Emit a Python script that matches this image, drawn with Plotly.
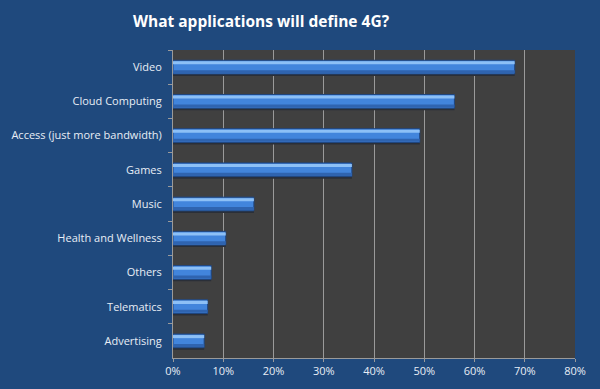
import plotly.graph_objects as go

categories = ["Video", "Cloud Computing", "Access (just more bandwidth)", "Games",
              "Music", "Health and Wellness", "Others", "Telematics", "Advertising"]
values = [68.0, 56.0, 49.1, 35.6, 16.1, 10.5, 7.6, 6.9, 6.2]
x_ticks = [0, 10, 20, 30, 40, 50, 60, 70, 80]
x_tick_labels = ["0%", "10%", "20%", "30%", "40%", "50%", "60%", "70%", "80%"]

fig = go.Figure()
# shadow
fig.add_trace(go.Bar(y=categories, x=values, orientation="h", width=0.42, offset=-0.16,
                     marker=dict(color="#2a2f38", line=dict(width=0)), hoverinfo="skip"))
# main bar
fig.add_trace(go.Bar(y=categories, x=values, orientation="h", width=0.40, offset=-0.20,
                     marker=dict(color="#4285dc", line=dict(color="#1f4680", width=1))))
# top highlight
fig.add_trace(go.Bar(y=categories, x=values, orientation="h", width=0.09, offset=-0.17,
                     marker=dict(color="#8dc0f6", line=dict(width=0)), hoverinfo="skip"))
# bottom darker band
fig.add_trace(go.Bar(y=categories, x=values, orientation="h", width=0.09, offset=0.09,
                     marker=dict(color="#2f64b0", line=dict(width=0)), hoverinfo="skip"))

fig.update_layout(
    width=600, height=389,
    barmode="overlay",
    showlegend=False,
    paper_bgcolor="#1f497d",
    plot_bgcolor="#404040",
    margin=dict(l=173, r=25, t=50, b=31),
    font=dict(family="Open Sans", color="#e8eef6", size=11),
    title=dict(text="<b>What applications will define 4G?</b>", x=0.435, xanchor="center",
               y=0.945, yanchor="middle", font=dict(size=15.5, color="white", family="Open Sans")),
    xaxis=dict(range=[0, 80], tickvals=x_ticks, ticktext=x_tick_labels,
               showgrid=True, gridcolor="#9a9a9a", gridwidth=1,
               showline=True, linecolor="#9a9a9a", zeroline=False,
               ticks="outside", ticklen=3, tickcolor="#9a9a9a", fixedrange=True),
    yaxis=dict(categoryorder="array", categoryarray=categories, autorange="reversed",
               showline=True, linecolor="#9a9a9a", ticks="outside", ticklen=4,
               tickcolor="#9a9a9a", tickson="boundaries", ticklabelstandoff=8,
               showgrid=False, fixedrange=True),
)

fig.write_html("out.html", config={"displayModeBar": False},
               post_script="document.body.style.margin='0';")
